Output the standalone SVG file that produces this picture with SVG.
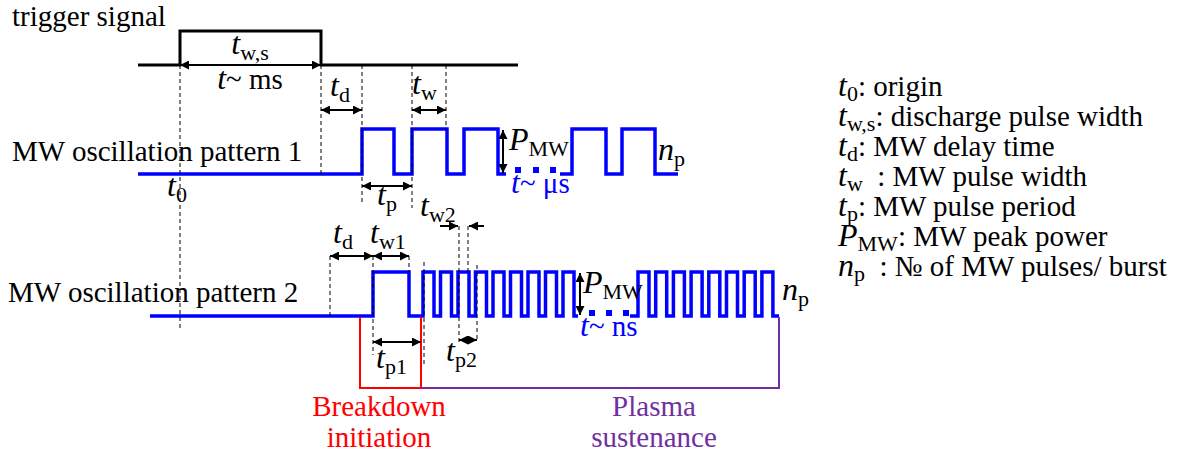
<svg xmlns="http://www.w3.org/2000/svg" width="1192" height="456" viewBox="0 0 1192 456">
<style>
text{font-family:"Liberation Serif","Times New Roman",serif;font-size:29px;fill:#000}
.m{font-style:italic;font-size:32px}
.s{font-size:22px}
.blue{fill:#0000FF}
.red{fill:#FF0000}
.pur{fill:#7030A0}
.sig{fill:none;stroke:#000;stroke-width:3}
.mw{fill:none;stroke:#0000FF;stroke-width:3.5}
.dash{fill:none;stroke:#000;stroke-width:1;stroke-dasharray:4 3}
.arr{fill:none;stroke:#000;stroke-width:2;marker-start:url(#ah);marker-end:url(#ah)}
.arr1{fill:none;stroke:#000;stroke-width:2;marker-end:url(#ah)}
.dot{fill:#0000FF}
</style>
<defs>
<marker id="ah" viewBox="0 0 10 10" refX="10" refY="5" markerWidth="5" markerHeight="4.5" orient="auto-start-reverse" markerUnits="strokeWidth"><path d="M0,0 L10,5 L0,10 z" fill="#000"/></marker>
</defs>

<g id="trigger">
<text x="12" y="26">trigger signal</text>
<path class="sig" d="M138,65 H180 V31 H321 V65 H518"/>
<text x="250" y="54" text-anchor="middle"><tspan class="m">t</tspan><tspan class="s" dy="6">w,s</tspan></text>
<text x="250" y="89" text-anchor="middle"><tspan class="m">t</tspan>~ ms</text>
</g>

<g id="pattern1">
<text x="12" y="161">MW oscillation pattern 1</text>
<path class="mw" d="M138,174 H362 V129 H394 V174 H412 V129 H447 V174 H464 V129 H498 V174 H506"/>
<rect class="dot" x="515" y="167" width="6" height="6"/>
<rect class="dot" x="533" y="167" width="6" height="6"/>
<rect class="dot" x="550" y="167" width="6" height="6"/>
<path class="mw" d="M560,174 H572 V129 H606 V174 H622 V129 H655 V174 H678"/>
<text x="167" y="196"><tspan class="m">t</tspan><tspan class="s" dy="6">0</tspan></text>
<text x="509" y="150"><tspan class="m">P</tspan><tspan class="s" dy="6">MW</tspan></text>
<text x="658" y="160"><tspan class="m">n</tspan><tspan class="s" dy="6">p</tspan></text>
<text x="511" y="193" class="blue"><tspan class="m">t</tspan>~ μs</text>
<text x="377" y="205"><tspan class="m">t</tspan><tspan class="s" dy="6">p</tspan></text>
<text x="330" y="96"><tspan class="m">t</tspan><tspan class="s" dy="6">d</tspan></text>
<text x="412" y="94"><tspan class="m">t</tspan><tspan class="s" dy="6">w</tspan></text>
</g>

<g id="pattern2">
<text x="8" y="302">MW oscillation pattern 2</text>
<path class="mw" d="M150,316 H373 V272 H409 V316 H423 V272 H434 V316 H440.5 V272 H451.5 V316 H458 V272 H469 V316 H475.5 V272 H486.5 V316 H493 V272 H504 V316 H510.5 V272 H521.5 V316 H528 V272 H539 V316 H545.5 V272 H556.5 V316 H563 V272 H574 V316 H578"/>
<rect class="dot" x="589" y="310" width="6" height="6"/>
<rect class="dot" x="606" y="310" width="6" height="6"/>
<rect class="dot" x="623" y="310" width="6" height="6"/>
<path class="mw" d="M630,316 H638 V272 H649 V316 H655.7 V272 H666.7 V316 H673.4 V272 H684.4 V316 H691.1 V272 H702.1 V316 H708.8 V272 H719.8 V316 H726.5 V272 H737.5 V316 H744.2 V272 H755.2 V316 H761.9 V272 H772.9 V316 H779"/>
<text x="583" y="293"><tspan class="m">P</tspan><tspan class="s" dy="6">MW</tspan></text>
<text x="782" y="300"><tspan class="m">n</tspan><tspan class="s" dy="6">p</tspan></text>
<text x="580" y="336" class="blue"><tspan class="m">t</tspan>~ ns</text>
<text x="333" y="243"><tspan class="m">t</tspan><tspan class="s" dy="6">d</tspan></text>
<text x="370" y="243"><tspan class="m">t</tspan><tspan class="s" dy="6">w1</tspan></text>
<text x="420" y="216"><tspan class="m">t</tspan><tspan class="s" dy="6">w2</tspan></text>
<text x="376" y="368"><tspan class="m">t</tspan><tspan class="s" dy="6">p1</tspan></text>
<text x="446" y="361"><tspan class="m">t</tspan><tspan class="s" dy="6">p2</tspan></text>
</g>

<g id="phases">
<path d="M360,317 V388 H421 V317" fill="none" stroke="#FF0000" stroke-width="2"/>
<path d="M421,388 H779 V317" fill="none" stroke="#7030A0" stroke-width="2"/>
<text x="379" y="416" text-anchor="middle" class="red">Breakdown</text>
<text x="379" y="447" text-anchor="middle" class="red">initiation</text>
<text x="654" y="416" text-anchor="middle" class="pur">Plasma</text>
<text x="654" y="447" text-anchor="middle" class="pur">sustenance</text>
</g>

<g id="legend">
<text x="838" y="96"><tspan class="m">t</tspan><tspan class="s" dy="5">0</tspan><tspan dy="-5">: origin</tspan></text>
<text x="838" y="126"><tspan class="m">t</tspan><tspan class="s" dy="5">w,s</tspan><tspan dy="-5">: discharge pulse width</tspan></text>
<text x="838" y="156"><tspan class="m">t</tspan><tspan class="s" dy="5">d</tspan><tspan dy="-5">: MW delay time</tspan></text>
<text x="838" y="186" xml:space="preserve"><tspan class="m">t</tspan><tspan class="s" dy="5">w</tspan><tspan dy="-5">  : MW pulse width</tspan></text>
<text x="838" y="216"><tspan class="m">t</tspan><tspan class="s" dy="5">p</tspan><tspan dy="-5">: MW pulse period</tspan></text>
<text x="838" y="246"><tspan class="m">P</tspan><tspan class="s" dy="5">MW</tspan><tspan dy="-5">: MW peak power</tspan></text>
<text x="838" y="276" xml:space="preserve"><tspan class="m">n</tspan><tspan class="s" dy="5">p</tspan><tspan dy="-5">  : № of MW pulses/ burst</tspan></text>
</g>

<g id="connectors">
<line class="dash" x1="180" y1="65" x2="180" y2="330"/>
<line class="dash" x1="321" y1="65" x2="321" y2="175"/>
<line class="dash" x1="362" y1="65" x2="362" y2="205"/>
<line class="dash" x1="412" y1="65" x2="412" y2="208"/>
<line class="dash" x1="446" y1="65" x2="446" y2="130"/>
<line class="arr" x1="180" y1="65" x2="321" y2="65"/>
<line class="arr" x1="321" y1="110" x2="362" y2="110"/>
<line class="arr" x1="412" y1="110" x2="446" y2="110"/>
<line class="arr" x1="362" y1="186" x2="412" y2="186"/>
<line class="arr" x1="503" y1="130" x2="503" y2="173"/>
<line class="dash" x1="330" y1="256" x2="330" y2="316"/>
<line class="dash" x1="373" y1="256" x2="373" y2="355"/>
<line class="dash" x1="409" y1="256" x2="409" y2="272"/>
<line class="dash" x1="424" y1="262" x2="424" y2="365"/>
<line class="dash" x1="459" y1="226" x2="459" y2="342"/>
<line class="dash" x1="468" y1="226" x2="468" y2="272"/>
<line class="dash" x1="477" y1="265" x2="477" y2="342"/>
<line class="arr" x1="330" y1="256" x2="373" y2="256"/>
<line class="arr" x1="373" y1="256" x2="409" y2="256"/>
<line class="arr" x1="373" y1="342" x2="421" y2="342"/>
<line class="arr" x1="459" y1="340" x2="477" y2="340"/>
<line class="arr1" x1="440" y1="226" x2="458" y2="226"/>
<line class="arr1" x1="484" y1="226" x2="469" y2="226"/>
<line class="arr" x1="580" y1="273" x2="580" y2="315"/>
</g>
</svg>
